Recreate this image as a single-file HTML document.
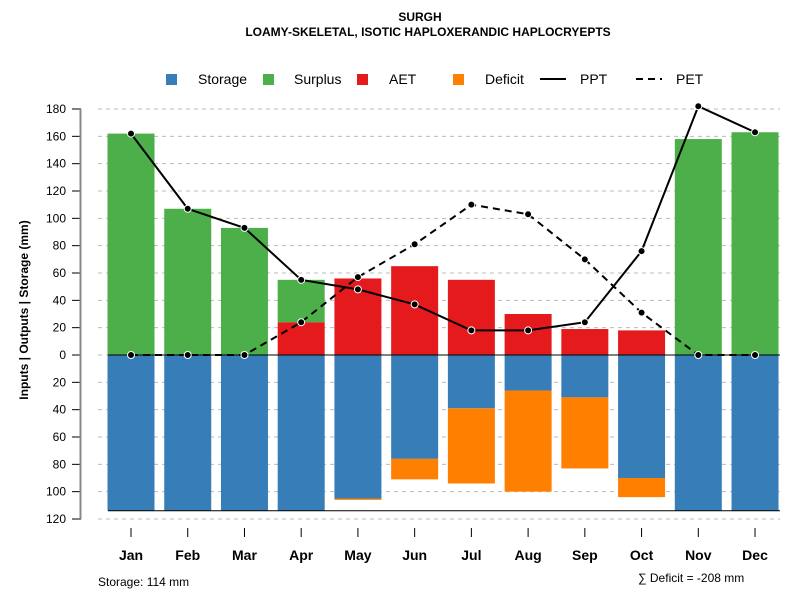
<!DOCTYPE html>
<html><head><meta charset="utf-8"><style>
body{margin:0;background:#fff}
svg{font-family:"Liberation Sans",sans-serif}
</style></head><body>
<svg id="c" width="800" height="600">
<text x="420" y="21" text-anchor="middle" font-size="12" font-weight="bold">SURGH</text>
<text x="428" y="36" text-anchor="middle" font-size="12" font-weight="bold">LOAMY-SKELETAL, ISOTIC HAPLOXERANDIC HAPLOCRYEPTS</text>
<g id="legend" font-size="14">
<g><rect x="166" y="74" width="11" height="11" fill="#377EB8"/><text x="198" y="84">Storage</text></g>
<g><rect x="263" y="74" width="11" height="11" fill="#4DAF4A"/><text x="294" y="84">Surplus</text></g>
<g><rect x="357" y="74" width="11" height="11" fill="#E41A1C"/><text x="389" y="84">AET</text></g>
<g><rect x="453" y="74" width="11" height="11" fill="#FF7F00"/><text x="485" y="84">Deficit</text></g>
<g><line x1="540" y1="79" x2="566" y2="79" stroke="#000" stroke-width="2"/><text x="580" y="84">PPT</text></g>
<g><line x1="636" y1="79" x2="662" y2="79" stroke="#000" stroke-width="2" stroke-dasharray="7,5"/><text x="676" y="84">PET</text></g>
</g>
<g id="grid"></g><g id="bars"></g><g id="lines"></g><g id="axes"></g>
<text x="98" y="586" font-size="12">Storage: 114 mm</text>
<text x="638" y="582" font-size="12">∑ Deficit = -208 mm</text>
<text transform="translate(28,310) rotate(-90)" text-anchor="middle" font-size="12" font-weight="bold">Inputs | Outputs | Storage    (mm)</text>
</svg>
<script>
const months=["Jan","Feb","Mar","Apr","May","Jun","Jul","Aug","Sep","Oct","Nov","Dec"];
const storage=[114,114,114,114,105,76,39,26,31,90,114,114];
const deficit=[0,0,0,0,1,15,55,74,52,14,0,0];
const aet=[0,0,0,24,56,65,55,30,19,18,0,0];
const surplus=[162,107,93,31,0,0,0,0,0,0,158,163];
const ppt=[162,107,93,55,48,37,18,18,24,76,182,163];
const pet=[0,0,0,24,57,81,110,103,70,31,0,0];
const yTicks=[180,160,140,120,100,80,60,40,20,0,-20,-40,-60,-80,-100,-120];
const NS="http://www.w3.org/2000/svg";
const y=v=>355-v*(246/180);
const x=i=>131+i*56.73;
const bw=47;
function mk(p,t,a){const e=document.createElementNS(NS,t);for(const k in a)e.setAttribute(k,a[k]);document.getElementById(p).appendChild(e);return e;}
yTicks.forEach(t=>{
 const g=mk('grid','line',{x1:98,x2:780,y1:y(t),y2:y(t),stroke:'#bbb','stroke-dasharray':'4,4'});
 
 
 const tk=mk('axes','line',{x1:72,x2:81,y1:y(t),y2:y(t),stroke:'#000'});
 
 
 const l=mk('axes','text',{x:66,y:y(t)+4,'text-anchor':'end','font-size':12});
 l.textContent=Math.abs(t);
 
 
});
const ax=mk('axes','line',{x1:80.5,x2:80.5,y1:y(180),y2:y(-120),stroke:'#888','stroke-width':2});


months.forEach((m,i)=>{
 const cx=x(i),l=cx-bw/2;
 const s=mk('bars','rect',{x:l,y:y(0),width:bw,height:y(-storage[i])-y(0),fill:'#377EB8'});
 
 
 if(deficit[i]>0){const d=mk('bars','rect',{x:l,y:y(-storage[i]),width:bw,height:y(-storage[i]-deficit[i])-y(-storage[i]),fill:'#FF7F00'});
 
 }
 if(aet[i]>0){const a=mk('bars','rect',{x:l,y:y(aet[i]),width:bw,height:y(0)-y(aet[i]),fill:'#E41A1C'});
 
 }
 if(surplus[i]>0){const u=mk('bars','rect',{x:l,y:y(aet[i]+surplus[i]),width:bw,height:y(aet[i])-y(aet[i]+surplus[i]),fill:'#4DAF4A'});
 
 }
 const tk=mk('axes','line',{x1:cx,x2:cx,y1:528,y2:537,stroke:'#000'});
 
 
 const t=mk('axes','text',{x:cx,y:560,'text-anchor':'middle','font-size':14,'font-weight':'bold'});
 t.textContent=m;
 
 
});
const z=mk('bars','line',{x1:108,x2:780,y1:y(0),y2:y(0),stroke:'#000'});


const bl=mk('bars','line',{x1:108,x2:780,y1:y(-114),y2:y(-114),stroke:'#000'});


function series(arr,name,dash){
 const p=mk('lines','polyline',{points:arr.map((v,i)=>x(i)+','+y(v)).join(' '),fill:'none',stroke:'#000','stroke-width':2,'stroke-dasharray':dash});
 
 
 arr.forEach((v,i)=>{const c=mk('lines','circle',{cx:x(i),cy:y(v),r:3.5,fill:'#000',stroke:'#fff','stroke-width':1});
 
 });
}
series(pet,'pet','7,5');
series(ppt,'ppt','none');
</script>
</body></html>
